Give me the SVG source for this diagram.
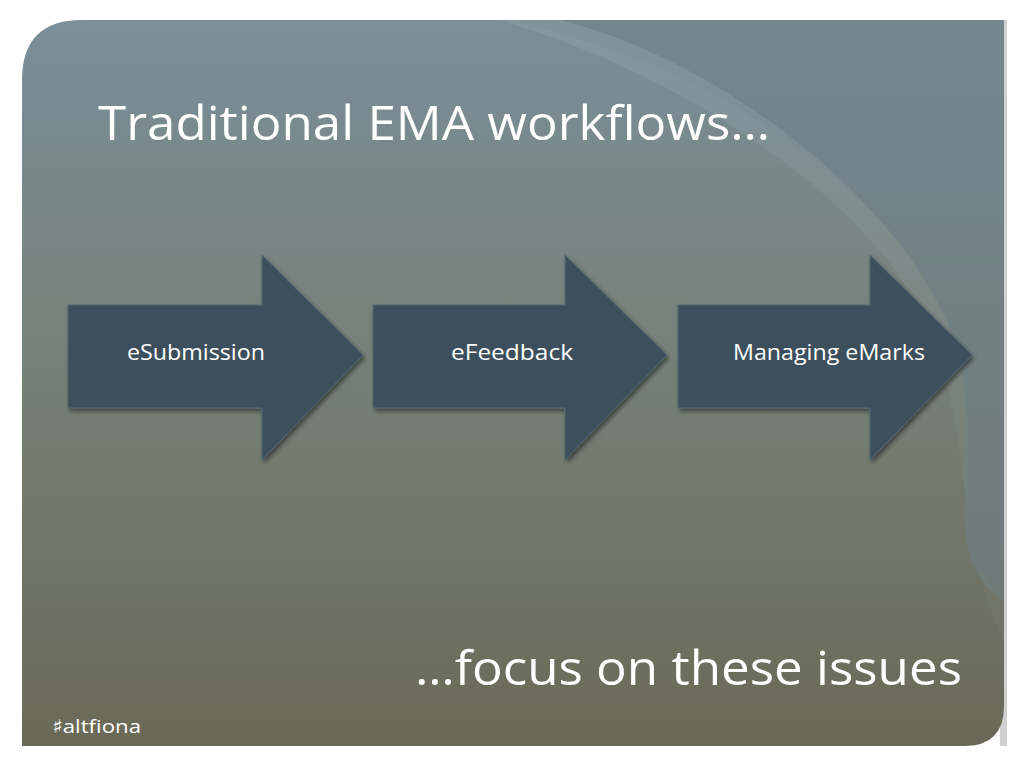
<svg xmlns="http://www.w3.org/2000/svg" width="1024" height="768" viewBox="0 0 1024 768">
<defs>
<linearGradient id="bg" x1="0" y1="0" x2="0" y2="1">
<stop offset="0" stop-color="#7b8f9a"/>
<stop offset="0.5" stop-color="#758075"/>
<stop offset="1" stop-color="#6a6957"/>
</linearGradient>
<linearGradient id="sw" x1="0" y1="0" x2="0" y2="1">
<stop offset="0" stop-color="#8a9ea8" stop-opacity="0.6"/>
<stop offset="1" stop-color="#7a8070" stop-opacity="0.2"/>
</linearGradient>
<clipPath id="slide"><path d="M82 20 H1004 V706 Q1004 746 964 746 H22 V80 Q22 20 82 20 Z"/></clipPath>
<filter id="sh" x="-10%" y="-10%" width="130%" height="130%"><feDropShadow dx="2" dy="3" stdDeviation="2" flood-color="#000" flood-opacity="0.45"/></filter>
</defs>
<style>
.arrow{fill:#3e505c;stroke:#556873;stroke-width:1;filter:url(#sh)}
.lbl{font-family:"Open Sans","DejaVu Sans",sans-serif;font-size:21px;fill:#ffffff}
.big{font-family:"Open Sans","DejaVu Sans",sans-serif;font-size:48px;fill:#ffffff}
</style>
<rect width="1024" height="768" fill="#ffffff"/>
<rect x="1000" y="20" width="7" height="726" fill="#d0d0d0"/>
<g clip-path="url(#slide)">
<rect x="22" y="20" width="982" height="726" fill="url(#bg)"/>
<path d="M500 20 C720 60 900 200 950 330 C990 440 930 560 1004 600 V20 Z" fill="#6d7f88" opacity="0.55"/>
<path d="M500 20 C700 80 880 210 930 330 C970 430 960 560 1004 640 V600 C940 540 990 430 950 330 C900 200 720 60 560 20 Z" fill="url(#sw)"/>
</g>
<text class="big" x="98" y="140" textLength="672" lengthAdjust="spacingAndGlyphs">Traditional EMA workflows…</text>
<g id="n1"><path class="arrow" d="M68 305 H262 V255 L363 355 L262 460 V408 H68 Z"/><text class="lbl" x="127" y="360" textLength="138" lengthAdjust="spacingAndGlyphs">eSubmission</text></g>
<g id="n2"><path class="arrow" d="M373 305 H565 V255 L667 355 L565 460 V408 H373 Z"/><text class="lbl" x="451" y="360" textLength="122" lengthAdjust="spacingAndGlyphs">eFeedback</text></g>
<g id="n3"><path class="arrow" d="M678 305 H870 V255 L972 355 L870 460 V408 H678 Z"/><text class="lbl" x="733" y="360" textLength="192" lengthAdjust="spacingAndGlyphs">Managing eMarks</text></g>
<g id="connectors"></g>
<text class="big" x="415" y="685" textLength="547" lengthAdjust="spacingAndGlyphs">…focus on these issues</text>
<text x="52" y="733" font-family="Open Sans, DejaVu Sans, sans-serif" font-size="19" fill="#ffffff" textLength="89" lengthAdjust="spacingAndGlyphs">♯altfiona</text>
</svg>
